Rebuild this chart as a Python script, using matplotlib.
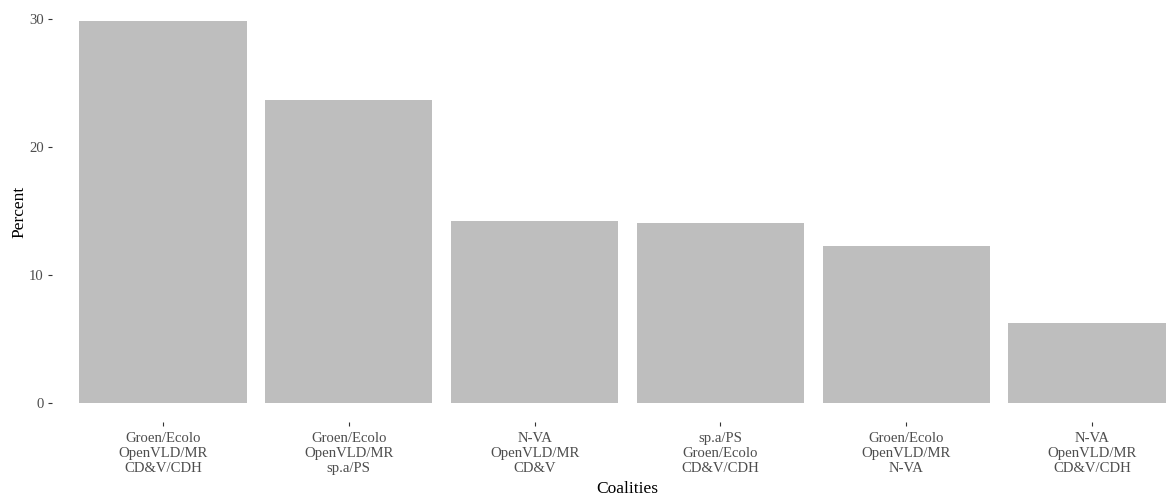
import matplotlib
matplotlib.use("Agg")
import matplotlib.pyplot as plt

coalitions = [
    "Groen/Ecolo\nOpenVLD/MR\nCD&V/CDH",
    "Groen/Ecolo\nOpenVLD/MR\nsp.a/PS",
    "N-VA\nOpenVLD/MR\nCD&V",
    "sp.a/PS\nGroen/Ecolo\nCD&V/CDH",
    "Groen/Ecolo\nOpenVLD/MR\nN-VA",
    "N-VA\nOpenVLD/MR\nCD&V/CDH",
]
percent = [29.8, 23.65, 14.2, 14.05, 12.25, 6.25]
y_ticks = [0, 10, 20, 30]

plt.rcParams['font.family'] = ['Liberation Serif', 'DejaVu Serif']

W, H = 1166, 498
fig = plt.figure(figsize=(W / 100, H / 100), dpi=100)
left_px, right_px, top_px, bottom_px = 51.5, 1203.5, 2, 422
ax = fig.add_axes([left_px / W, 1 - bottom_px / H,
                   (right_px - left_px) / W, (bottom_px - top_px) / H])

x = list(range(len(coalitions)))
ax.bar(x, percent, width=0.9, color="#BEBEBE")

n = len(coalitions)
ax.set_xlim(-0.6, n - 1 + 0.6)
ymax = max(percent)
ax.set_ylim(-0.05 * ymax, 1.05 * ymax)

ax.set_xticks(x)
ax.set_xticklabels(coalitions, fontsize=10.6, color="#4D4D4D", linespacing=1.2)
ax.set_yticks(y_ticks)
ax.set_yticklabels([str(v) for v in y_ticks], fontsize=10.6, color="#4D4D4D")
ax.tick_params(axis='both', length=3, width=0.8, color="#333333", pad=2.5)
ax.tick_params(axis='x', pad=4.2)

for s in ax.spines.values():
    s.set_visible(False)
ax.set_facecolor("white")

ax.set_xlabel("Coalities", fontsize=12.5, color="black", labelpad=4)
ax.set_ylabel("Percent", fontsize=12.5, color="black", labelpad=1.5)

fig.savefig("out.png", dpi=100, facecolor="white")
